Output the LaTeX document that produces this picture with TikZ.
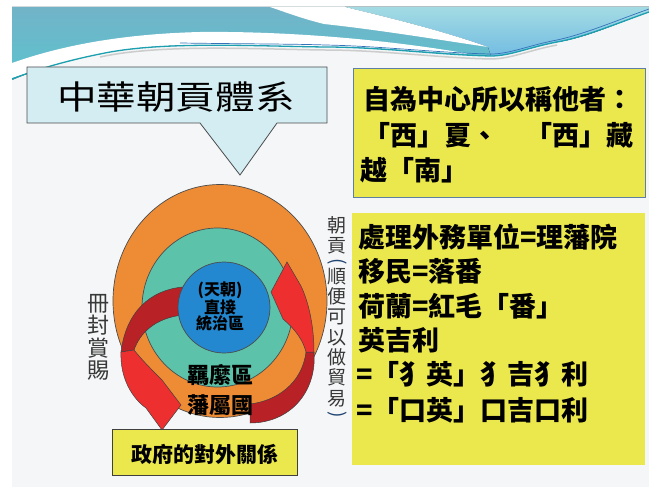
\documentclass[tikz,border=0pt]{standalone}
\usepackage{fontspec}
\usepackage{graphicx}
\usepackage{xcolor}
\usepackage{tikz}
\usetikzlibrary{shapes.geometric}
\newfontfamily\cjk{Noto Sans CJK TC}

\definecolor{pagebg}{HTML}{F4F6F7}
\definecolor{waveTop}{HTML}{72B3C8}
\definecolor{waveBot}{HTML}{5BC3CE}
\definecolor{skyTop}{HTML}{A3DBE3}
\definecolor{skyBot}{HTML}{72BCE2}
\definecolor{streakTeal}{HTML}{1C9FAF}
\definecolor{streakBlue}{HTML}{3572BA}
\definecolor{calloutFill}{HTML}{D3EDF3}
\definecolor{boxYellow}{HTML}{EBE84E}
\definecolor{boxEdge}{HTML}{5D7FA6}
\definecolor{ringOrange}{HTML}{EE8C35}
\definecolor{ringTeal}{HTML}{5CC3AA}
\definecolor{ringBlue}{HTML}{2388CF}
\definecolor{arrowDark}{HTML}{B82126}
\definecolor{arrowRed}{HTML}{EE2F30}
\newcommand{\vparen}[1]{{\color{streakBlue!60!black}\rotatebox[origin=c]{-90}{#1}}}

\begin{document}
\begin{tikzpicture}[
    x=1pt, y=-1pt,
    ring/.style={ellipse, draw=black!70, line width=0.7pt, inner sep=0pt},
    backside/.style={fill=arrowDark, draw=black!75, line width=0.5pt},
    frontside/.style={fill=arrowRed, draw=black!75, line width=0.5pt},
    streak/.style={line width=1.3pt, streakTeal},
    boxline/.style={anchor=base west, inner sep=0pt, font=\cjk\bfseries\fontsize{27}{27}\selectfont},
    ringlabel/.style={inner sep=0pt, font=\cjk\bfseries\fontsize{22}{22}\selectfont},
    sidelabel/.style={align=center, inner sep=0pt, text=black!78}
]
\useasboundingbox (0,0) rectangle (649,487);
\fill[white] (0,0) rectangle (649,487);
\fill[pagebg] (12,7) rectangle (649,487);

% header wave
\fill[top color=waveTop, bottom color=waveBot] (12,7) -- (649,7) -- (649,12)
    .. controls (615,24) and (585,38) .. (557,42) .. controls (530,47) and (510,56) .. (491,56)
    .. controls (440,55) and (380,46) .. (325,47) .. controls (250,46) and (160,40) .. (100,54)
    .. controls (60,62) and (30,72) .. (12,80) -- cycle;
\fill[top color=skyTop, bottom color=skyBot] (345,7) -- (649,7) -- (649,12)
    .. controls (615,24) and (585,38) .. (557,42) .. controls (530,47) and (510,56) .. (491,56)
    -- (488,47) .. controls (440,30) and (390,18) .. (345,7) -- cycle;
\fill[white] (270,7) -- (345,7) .. controls (390,18) and (440,30) .. (488,47)
    .. controls (440,40) and (380,30) .. (324,24) .. controls (300,18) and (285,12) .. (270,7) -- cycle;
\fill[white] (12,63) .. controls (60,46) and (120,34) .. (200,32) .. controls (290,31) and (390,40) .. (470,54)
    .. controls (420,52) and (370,46) .. (325,47) .. controls (250,46) and (160,40) .. (100,54)
    .. controls (60,62) and (30,72) .. (12,78) -- cycle;
\draw[black!20, line width=1.5pt] (100,57) .. controls (160,44) and (250,49) .. (325,50)
    .. controls (380,50) and (440,58) .. (491,59) .. controls (510,59) and (530,50) .. (557,45);
\draw[streak] (12,79) .. controls (30,72) and (60,62) .. (100,54) .. controls (160,41) and (250,46) .. (325,47)
    .. controls (380,47) and (440,55) .. (491,56) .. controls (510,56) and (530,47) .. (557,42)
    .. controls (585,37) and (615,24) .. (649,12);
\draw[streakBlue, line width=0.7pt] (180,43) .. controls (250,44) and (300,44) .. (325,45)
    .. controls (380,46) and (440,53) .. (491,54) .. controls (510,54) and (530,45) .. (557,40)
    .. controls (585,34) and (615,21) .. (649,9);

% title callout
\filldraw[fill=calloutFill, draw=black!70, line width=0.8pt]
    (27,67) -- (327,67) -- (327,123) -- (277,123) -- (240,175) -- (200,123) -- (27,123) -- cycle;
\node[inner sep=0pt, font=\cjk\fontsize{33}{33}\selectfont] (title) at (176,97) {\scalebox{1.2}[1]{中華朝貢體系}};

% yellow boxes
\filldraw[fill=boxYellow, draw=boxEdge, line width=0.8pt] (353,68) rectangle (645,197);
\node[boxline] (self1) at (363,110) {自為中心所以稱他者：};
\node[boxline] (self2) at (363,146) {「西」夏、　「西」藏};
\node[boxline] (self3) at (360,181) {越「南」};

\fill[boxYellow] (352,213) rectangle (645,465);
\node[boxline] (rule1) at (358,247) {處理外務單位=理藩院};
\node[boxline] (rule2) at (358,281) {移民=落番};
\node[boxline] (rule3) at (358,316) {荷蘭=紅毛「番」};
\node[boxline] (rule4) at (358,350) {英吉利};
\node[boxline] (rule5) at (356,384) {=「犭英」犭吉犭利};
\node[boxline] (rule6) at (356,420) {=「口英」口吉口利};

% rings
\node[ring, fill=ringOrange, minimum width=214pt, minimum height=233pt] (outer) at (220,301) {};
\node[ring, fill=ringTeal, minimum width=151pt, minimum height=159pt] (middle) at (217.5,307.5) {};

% left arrow
\filldraw[backside] (183,287) .. controls (150,290) and (126,312) .. (121,352)
    -- (134,350) .. controls (140,333) and (155,318) .. (183,315) -- cycle;
\filldraw[frontside] (121,352) .. controls (120,378) and (132,398) .. (146,408)
    -- (162,430) -- (181,405) -- (162,380) .. controls (152,370) and (142,360) .. (134,350) -- cycle;
% right arrow
\filldraw[backside] (250,404) .. controls (276,401) and (302,384) .. (306,352)
    -- (314,352) .. controls (317,392) and (290,423) .. (250,423) -- cycle;
\filldraw[frontside] (306,352) .. controls (303,340) and (295,329) .. (283,319)
    -- (271,292) -- (287,262) -- (301,286) .. controls (310,305) and (314,330) .. (314,352) -- cycle;

\node[ring, fill=ringBlue, minimum width=92pt, minimum height=91pt] (inner) at (224,307.5) {};
\node[inner sep=0pt, align=center, font=\cjk\bfseries\fontsize{16}{16.5}\selectfont] (core) at (220,306.5) {(天朝)\\直接\\統治區};
\node[ringlabel] (jimi) at (220,375) {羈縻區};
\node[ringlabel] (vassal) at (220,405) {藩屬國};

% side labels
\node[sidelabel, font=\cjk\fontsize{22}{22.5}\selectfont] (bestow) at (98,337.5) {冊\\封\\賞\\賜};
\node[sidelabel, font=\cjk\fontsize{19}{20.3}\selectfont] (tribute) at (337,318.5)
    {朝\\貢\\[-5pt]\vparen{(}\\[-5pt]順\\便\\可\\以\\做\\貿\\易\\[-5pt]\vparen{)}};

% bottom box
\filldraw[fill=boxYellow, draw=black!75, line width=0.8pt] (112,429) rectangle (297,475);
\node[inner sep=0pt, font=\cjk\bfseries\fontsize{21}{21}\selectfont] (govt) at (205,454) {政府的對外關係};
\end{tikzpicture}
\end{document}
